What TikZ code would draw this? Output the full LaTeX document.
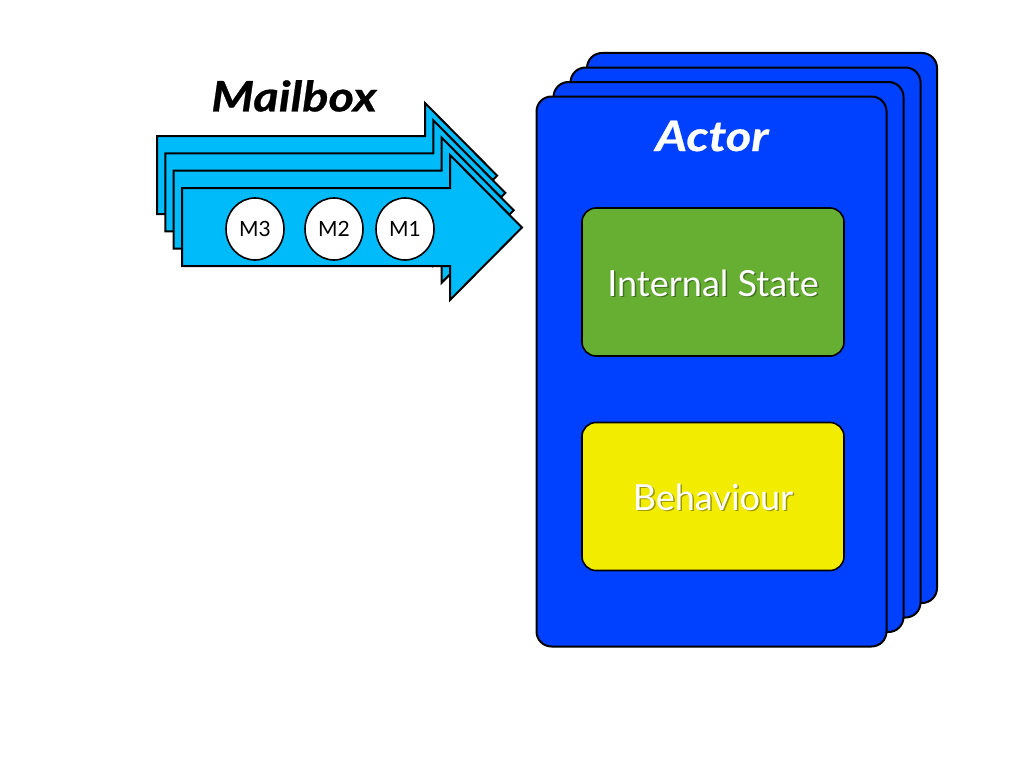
\documentclass[tikz,border=0pt]{standalone}
\usepackage{fontspec}
\setmainfont{Lato}
\usetikzlibrary{shapes.geometric}
\definecolor{actorblue}{RGB}{0,64,255}
\definecolor{mailblue}{RGB}{0,187,249}
\definecolor{stategreen}{RGB}{102,175,51}
\definecolor{behyellow}{RGB}{242,236,0}
\begin{document}
\begin{tikzpicture}[x=1pt,y=-1pt,
  card/.style={draw=black, line width=2pt, fill=actorblue, rounded corners=15pt,
    minimum width=350pt, minimum height=550pt, inner sep=0pt},
  inbox/.style={draw=black, line width=1.6pt, rounded corners=14pt,
    minimum width=262pt, minimum height=148pt, inner sep=0pt},
  mbarrow/.style={draw=black, line width=2pt, fill=mailblue, line join=miter},
  msg/.style={ellipse, draw=black, fill=white, line width=1.6pt,
    minimum width=58pt, minimum height=62pt, inner sep=0pt,
    font=\fontsize{21}{21}\selectfont},
  boxtext/.style={text=white, font=\fontsize{36}{36}\selectfont},
  shadowtext/.style={text=black, opacity=0.35, font=\fontsize{36}{36}\selectfont},
  title/.style={font=\fontsize{42}{42}\selectfont\bfseries\itshape\addfontfeature{FakeStretch=1.16,FakeBold=0.6}}
]
\useasboundingbox[fill=white] (0,0) rectangle (1024,768);

% mailbox arrows, back to front
\foreach \k in {3,2,1,0}{
  \begin{scope}[shift={({-8.3*\k},{-17.3*\k})}]
    \path[mbarrow] (182,188) -- (450,188) -- (450,155) -- (522,227.5)
      -- (450,300) -- (450,266) -- (182,266) -- cycle;
  \end{scope}
}
\node[title, text=black] (mailbox) at (294,96) {Mailbox};

\node[msg] (m3) at (255,229) {M3};
\node[msg] (m2) at (334,229) {M2};
\node[msg] (m1) at (405,229) {M1};

% actor cards, back to front
\node[card] (card4) at (762,328) {};
\node[card] (card3) at (745.5,342.5) {};
\node[card] (card2) at (728.5,357) {};
\node[card] (actor) at (711.5,371.5) {};

\node[title, text=white] (actortitle) at (712,136) {Actor};

\node[inbox, fill=stategreen] (state) at (713,282) {};
\node[shadowtext] at (714.5,284.5) {Internal State};
\node[boxtext] (statetext) at (713,283) {Internal State};

\node[inbox, fill=behyellow] (beh) at (713,496.5) {};
\node[shadowtext] at (714.5,498.5) {Behaviour};
\node[boxtext] (behtext) at (713,497) {Behaviour};
\end{tikzpicture}
\end{document}
